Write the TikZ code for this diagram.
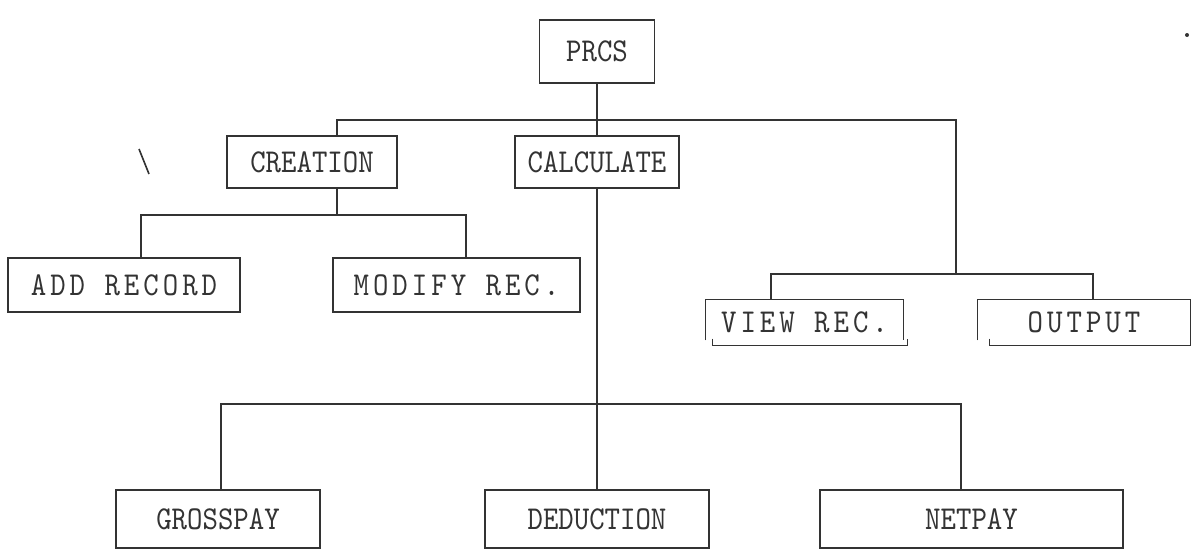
\documentclass[tikz,border=0pt]{standalone}
\usepackage{fontspec}
\newfontfamily\typew{lmmono10-regular.otf}[FakeStretch=0.88]
\newfontfamily\typewide{lmmono10-regular.otf}[FakeStretch=0.88, LetterSpace=12]
\usetikzlibrary{calc}
\definecolor{inkcolor}{gray}{0.2}

\begin{document}
\begin{tikzpicture}[x=0.02cm, y=-0.02cm,
    box/.style={draw=inkcolor, line width=0.8pt, inner sep=0pt, text=inkcolor,
                font=\typew\fontsize{19}{22}\selectfont},
    widebox/.style={box, font=\typewide\fontsize{19}{22}\selectfont},
    openbox/.style={widebox, draw=none},
    link/.style={draw=inkcolor, line width=0.8pt}]
  \useasboundingbox (0,0) rectangle (1202,555);

  \node[box, minimum width=2.3cm, minimum height=1.26cm] (prcs) at (597,51.5) {PRCS};
  \node[box, minimum width=3.4cm, minimum height=1.04cm] (creation) at (312,162) {CREATION};
  \node[box, minimum width=3.28cm, minimum height=1.04cm] (calc) at (597,162) {CALCULATE};
  \node[widebox, minimum width=4.64cm, minimum height=1.08cm] (addrec) at (124,285) {ADD RECORD};
  \node[widebox, minimum width=4.94cm, minimum height=1.08cm] (modrec) at (456.5,285) {MODIFY REC.};
  \node[openbox, minimum width=3.94cm, minimum height=0.9cm] (viewrec) at (804.5,322.5) {VIEW REC.};
  \node[openbox, minimum width=4.24cm, minimum height=0.9cm] (output) at (1084,322.5) {OUTPUT};
  \node[box, minimum width=4.08cm, minimum height=1.16cm] (gross) at (218,519) {GROSSPAY};
  \node[box, minimum width=4.48cm, minimum height=1.16cm] (deduct) at (597,519) {DEDUCTION};
  \node[box, minimum width=6.06cm, minimum height=1.16cm] (netpay) at (971.5,519) {NETPAY};

  \draw[link] ([yshift=3pt]viewrec.south west) -- (viewrec.north west) -- (viewrec.north east) -- ([yshift=3pt]viewrec.south east);
  \draw[link] ([shift={(7,-7)}]viewrec.south west) -- ++(0,7) -| ([shift={(4,-7)}]viewrec.south east);
  \draw[link] ([yshift=3pt]output.south west) -- (output.north west) -- (output.north east) -- (output.south east);
  \draw[link] ([shift={(12,-7)}]output.south west) -- ++(0,7) -- (output.south east);

  \coordinate (ca) at (337,120);
  \coordinate (cb) at (956,120);
  \coordinate (cm) at (141,215);
  \coordinate (cn) at (466,215);
  \coordinate (va) at (771,274);
  \coordinate (vb) at (1093,274);
  \coordinate (ga) at (221,404);
  \coordinate (gb) at (961,404);

  \draw[link] (prcs.south) -- (prcs.south |- ca);
  \draw[link] (creation.north -| ca) -- (ca) -- (cb) -- (cb |- va);
  \draw[link] (calc.north) -- (calc.north |- ca);
  \draw[link] (creation.south -| ca) -- (ca |- cm);
  \draw[link] (addrec.north -| cm) -- (cm) -- (cn) -- (modrec.north -| cn);
  \draw[link] (viewrec.north -| va) -- (va) -- (vb) -- (output.north -| vb);
  \draw[link] (calc.south) -- (deduct.north);
  \draw[link] (gross.north -| ga) -- (ga) -- (gb) -- (netpay.north -| gb);

  \draw[inkcolor, line width=0.9pt] (139,149) -- (149,174);
  \fill[inkcolor] (1187,35) circle (2);
\end{tikzpicture}
\end{document}
